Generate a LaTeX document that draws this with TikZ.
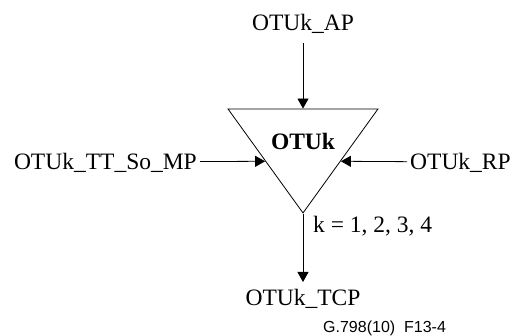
\documentclass[tikz,border=0pt]{standalone}
\usepackage{fontspec}
\setmainfont{Liberation Serif}
\newfontfamily\figfont{Liberation Sans}
\usetikzlibrary{arrows.meta,positioning,shapes.geometric}

\begin{document}
\begin{tikzpicture}[
  x=1pt,y=-1pt,
  port/.style={
    inner sep=3pt,
    text height=15.5pt,
    text depth=0pt,
    font=\fontsize{23.5}{28}\selectfont
  },
  atomic/.style={
    draw,
    isosceles triangle,
    isosceles triangle stretches,
    shape border rotate=270,
    minimum width=150pt,
    minimum height=104pt,
    inner sep=0pt,
    line width=0.8pt
  },
  arrow/.style={-{Triangle[length=10pt,width=11pt]},line width=0.8pt}
]
  \useasboundingbox (0,0) rectangle (512,336);
  \node[atomic,anchor=apex] (otuk) at (303,214) {};
  \node[port,font=\fontsize{23.5}{28}\selectfont\bfseries] (name) at (303,142) {OTUk};
  \node[port,anchor=south,inner ysep=12pt] (ap) at (303,43) {OTUk\_AP};
  \node[port,anchor=east] (ttso) at (200,162) {OTUk\_TT\_So\_MP};
  \node[port,anchor=west] (rp) at (407,162) {OTUk\_RP};
  \node[port,anchor=base west] (klist) at (310,233) {k = 1, 2, 3, 4};
  \node[port,anchor=north,inner ysep=8pt] (tcp) at (303,282) {OTUk\_TCP};
  \node[anchor=base west,inner sep=0pt,font=\figfont\fontsize{16}{19}\selectfont] (fig) at (323,333) {G.798(10)\ \ F13-4};
  \draw[arrow] (ap) -- (otuk);
  \draw[arrow] (ttso) -- (otuk.right side);
  \draw[arrow] (rp) -- (otuk.left side);
  \draw[arrow] (otuk.apex) -- (tcp);
\end{tikzpicture}
\end{document}
